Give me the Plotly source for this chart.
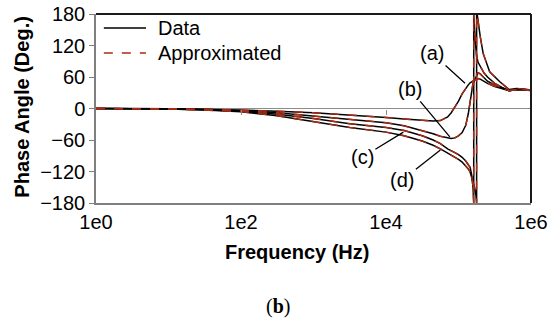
import plotly.graph_objects as go

# ---- data (log10 of frequency in Hz, phase in degrees) ----
a_exp = [0, 0.5, 1, 1.5, 2, 2.5, 3, 3.5, 4, 4.25, 4.5, 4.65, 4.75, 4.85, 4.9, 4.95, 5.0, 5.05, 5.1, 5.135,
         5.16, 5.18, 5.2, 5.22, 5.25, 5.27, 5.3, 5.35, 5.4, 5.5, 5.6, 5.7, 5.8, 5.9, 6.0]
a_phase = [0, 0, -0.5, -1.5, -3, -5, -8, -12, -17, -20, -23, -24, -23, -16, -8, 2, 14, 28, 39, 45,
           49, 51, 52, 54, 56, 57, 56, 52, 48, 42, 38, 34, 36, 36, 35]

b_exp = [0, 0.5, 1, 1.5, 2, 2.5, 3, 3.5, 4, 4.25, 4.5, 4.65, 4.75, 4.85, 4.9, 4.95, 5.0, 5.05, 5.1, 5.135,
         5.16, 5.18, 5.2, 5.22, 5.25, 5.27, 5.3, 5.35, 5.4, 5.5, 5.6, 5.7, 5.8, 5.9, 6.0]
b_phase = [0, 0, -0.5, -2, -4, -8, -14, -21, -27, -33, -42, -48, -53, -56, -57, -56, -52, -46, -32, -10,
           15, 36, 48, 53, 62, 68, 66, 58, 52, 45, 39, 34, 36, 36, 35]

c_exp = [0, 0.5, 1, 1.5, 2, 2.5, 3, 3.5, 4, 4.25, 4.5, 4.65, 4.75, 4.85, 4.9, 4.95, 5.0, 5.05, 5.1, 5.135,
         5.16, 5.18, 5.2, 5.21, 5.21, 5.23, 5.25, 5.27, 5.3, 5.35, 5.4, 5.5, 5.6, 5.7, 5.8, 5.9, 6.0]
c_phase = [0, 0, -1, -2.5, -5, -11, -19, -29, -36, -42, -52, -60, -67, -77, -80, -84, -88, -93, -100, -106,
           -112, -125, -150, -180, 180, 130, 100, 88, 80, 68, 60, 48, 40, 34, 36, 36, 34]

d_exp = [0, 0.5, 1, 1.5, 2, 2.5, 3, 3.5, 4, 4.25, 4.5, 4.65, 4.75, 4.85, 4.9, 4.95, 5.0, 5.05, 5.1, 5.135,
         5.16, 5.18, 5.2, 5.22, 5.24, 5.25, 5.25, 5.26, 5.3, 5.34, 5.43, 5.5, 5.57, 5.7, 5.8, 5.9, 6.0]
d_phase = [0, 0, -1, -3, -6, -14, -25, -36, -45, -52, -62, -70, -77, -85, -88, -92, -97, -102, -109, -115,
           -121, -130, -140, -150, -165, -180, 180, 177, 137, 105, 70, 60, 51, 36, 38, 37, 35]

curves = {"a": (a_exp, a_phase), "b": (b_exp, b_phase), "c": (c_exp, c_phase), "d": (d_exp, d_phase)}

y_ticks = [-180, -120, -60, 0, 60, 120, 180]
x_tickvals = [1, 100, 10000, 1000000]
x_ticktext = ["1e0", "1e2", "1e4", "1e6"]
legend_names = ["Data", "Approximated"]

FONT = "Liberation Sans, Arial, sans-serif"
RED = "#A82C16"

fig = go.Figure()
for name, (ex, ph) in curves.items():
    fx = [10 ** e for e in ex]
    fig.add_trace(go.Scatter(x=fx, y=ph, mode="lines", name=legend_names[0],
                             line=dict(color="black", width=1.5), showlegend=False))
for name, (ex, ph) in curves.items():
    fx = [10 ** e for e in ex]
    fig.add_trace(go.Scatter(x=fx, y=ph, mode="lines", name=legend_names[1],
                             line=dict(color=RED, width=1.4, dash="dash"), showlegend=False))

# label annotations (a)-(d) with pointer lines
labels = [("(a)", 5.09, 48, -33, -30),
          ("(b)", 4.88, -54, -40, -48),
          ("(c)", 4.24, -45, -41, 25),
          ("(d)", 4.75, -79, -38, 30)]
ann = []
for txt, lx, ly, ax, ay in labels:
    ann.append(dict(x=lx, y=ly, xref="x", yref="y", text=txt, showarrow=True,
                    arrowhead=0, arrowwidth=1.3, arrowcolor="black", ax=ax, ay=ay,
                    font=dict(family=FONT, size=20, color="black")))

# manual legend
leg_y = [0.926, 0.794]
leg_color = ["black", RED]
leg_dash = ["solid", "dash"]
shapes = []
for i in range(2):
    shapes.append(dict(type="line", xref="paper", yref="paper", x0=0.018, x1=0.115,
                       y0=leg_y[i], y1=leg_y[i], line=dict(color=leg_color[i], width=1.6, dash=leg_dash[i])))
    ann.append(dict(x=0.138, y=leg_y[i], xref="paper", yref="paper", text=legend_names[i],
                    xanchor="left", yanchor="middle", showarrow=False,
                    font=dict(family=FONT, size=20, color="black")))

ann.append(dict(x=0.463, y=-0.259, xref="paper", yref="paper", text="<b>Frequency (Hz)</b>",
                xanchor="center", yanchor="middle",
                showarrow=False, font=dict(family=FONT, size=20, color="black")))
ann.append(dict(x=-0.17, y=0.51, xref="paper", yref="paper", text="<b>Phase Angle (Deg.)</b>",
                xanchor="center", yanchor="middle",
                showarrow=False, textangle=-90, font=dict(family=FONT, size=20, color="black")))
ann.append(dict(x=0.418, y=-0.55, xref="paper", yref="paper", text="(<b>b</b>)",
                xanchor="center", yanchor="middle",
                showarrow=False, font=dict(family="Liberation Serif, Times New Roman, serif", size=20, color="black")))

shapes += [
    dict(type="line", xref="paper", yref="paper", x0=0, x1=1, y0=1, y1=1,
         line=dict(color="#1a1a1a", width=2)),
    dict(type="line", xref="paper", yref="paper", x0=1, x1=1, y0=0, y1=1,
         line=dict(color="#1a1a1a", width=2)),
]

fig.update_layout(
    width=550, height=321,
    margin=dict(l=96, r=19, t=14, b=118, pad=0),
    paper_bgcolor="white", plot_bgcolor="white",
    showlegend=False,
    annotations=ann,
    shapes=shapes,
    xaxis=dict(type="log", range=[0, 6], tickvals=x_tickvals, ticktext=x_ticktext,
               automargin=False,
               showgrid=False, zeroline=False, showline=True, linecolor="#7f7f7f", linewidth=1.5,
               ticks="", tickfont=dict(family=FONT, size=20, color="black")),
    xaxis2=dict(type="log", range=[0, 6], overlaying="x", anchor="free", position=0.5,
                side="bottom", tickvals=[100, 10000], showticklabels=False,
                ticks="outside", ticklen=5, tickwidth=1.2, tickcolor="#8c8c8c",
                showgrid=False, zeroline=False, showline=False, automargin=False),
    yaxis=dict(range=[-180, 180], tickvals=y_ticks, showgrid=False, automargin=False,
               zeroline=True, zerolinecolor="#8c8c8c", zerolinewidth=1.3,
               showline=True, linecolor="#7f7f7f", linewidth=1.5,
               ticks="outside", ticklen=5, tickcolor="#7f7f7f",
               tickfont=dict(family=FONT, size=20, color="black")),
)
# invisible trace so that the tick-axis at phase zero is drawn
fig.add_trace(go.Scatter(x=[x_tickvals[0]], y=[y_ticks[3]], xaxis="x2", mode="markers",
                         marker=dict(opacity=0), showlegend=False, hoverinfo="skip"))

fig.write_html("out.html", config={"displayModeBar": False},
               post_script="document.body.style.margin='0';document.body.style.overflow='hidden';")
